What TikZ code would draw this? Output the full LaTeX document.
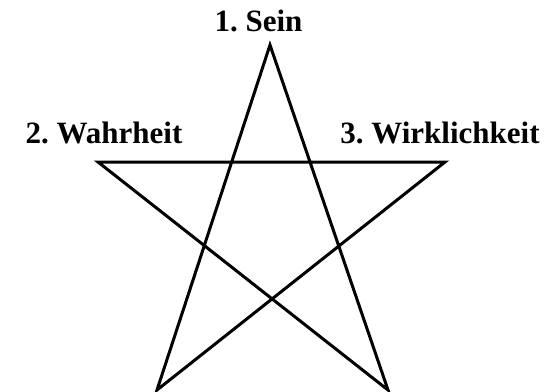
\documentclass[tikz,border=0pt]{standalone}
\usepackage{fontspec}
\setmainfont{Liberation Serif}
\frenchspacing
\begin{document}
\begin{tikzpicture}[x=1pt,y=-1pt,
  lbl/.style={font=\fontsize{31}{36}\selectfont\bfseries, inner sep=0pt, anchor=base},
  starline/.style={line width=3pt, line join=miter, black}]
\useasboundingbox (0,0) rectangle (556,391);
\coordinate (top) at (270,45);
\coordinate (left) at (98,162);
\coordinate (right) at (445,162);
\coordinate (bl) at (157,390);
\coordinate (br) at (388,390);
\draw[starline] (top) -- (bl) -- (right) -- (left) -- (br) -- cycle;
\node[lbl] (sein) at (258.5,31) {1. Sein};
\node[lbl] (wahr) at (104,143) {2. Wahrheit};
\node[lbl] (wirk) at (440,143) {3. Wirklichkeit};
\end{tikzpicture}
\end{document}
